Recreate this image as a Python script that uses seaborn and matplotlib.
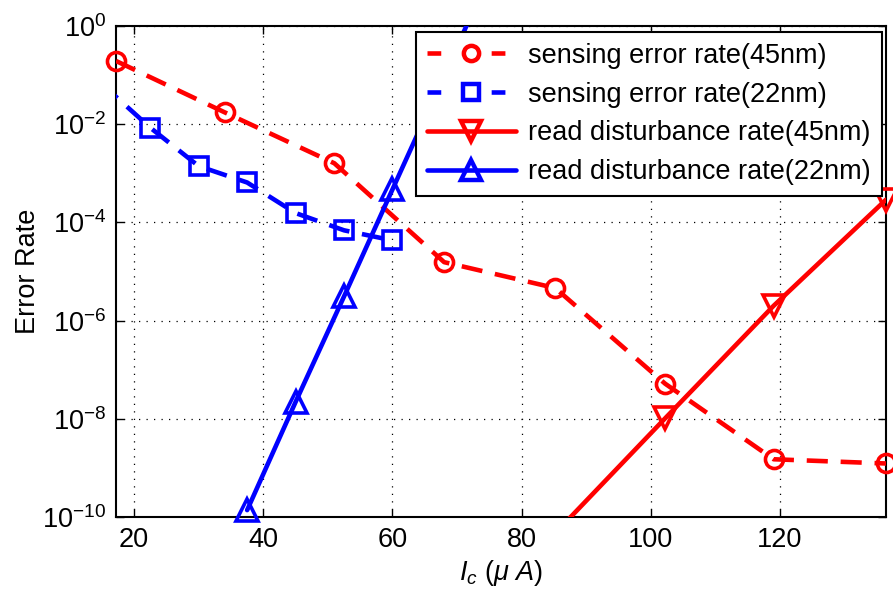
import numpy as np
import pandas as pd
import matplotlib
matplotlib.use("Agg")
import matplotlib.pyplot as plt
import seaborn as sns
from matplotlib.lines import Line2D
from matplotlib.ticker import FixedLocator, NullLocator, LogFormatterSciNotation

# Critical current (uA) and error rates
sense45_x = [17.2, 34.0, 51.0, 68.0, 85.2, 102.2, 119.0, 136.4]
sense45_y = [1.94e-1, 1.75e-2, 1.6e-3, 1.55e-5, 4.6e-6, 5.2e-8, 1.5e-9, 1.23e-9]

sense22_x = [15.0, 22.5, 30.0, 37.5, 45.0, 52.5, 60.0]
sense22_y = [6.6e-2, 8.5e-3, 1.4e-3, 6.5e-4, 1.55e-4, 6.9e-5, 4.3e-5]

dist45_x = [85.2, 102.2, 119.0, 136.4]
dist45_y = [4.7e-11, 1.02e-8, 2.0e-6, 2.9e-4]

dist22_x = [37.5, 45.0, 52.5, 60.0, 67.5, 75.0]
dist22_y = [1.38e-10, 2.2e-8, 3.1e-6, 4.7e-4, 7.0e-2, 11.0]

labels = ["sensing error rate(45nm)", "sensing error rate(22nm)",
          "read disturbance rate(45nm)", "read disturbance rate(22nm)"]
y_ticks = [1e-10, 1e-8, 1e-6, 1e-4, 1e-2, 1e0]
x_ticks = [20, 40, 60, 80, 100, 120]
XLIM = (17.2, 136.4)
YLIM = (1e-10, 1.0)

sns.set_style("ticks")
plt.rcParams.update({
    "font.family": ["Liberation Sans", "DejaVu Sans"],
    "mathtext.fontset": "custom",
    "mathtext.rm": "Liberation Sans",
    "mathtext.it": "Liberation Sans:italic",
    "mathtext.bf": "Liberation Sans:bold",
    "xtick.direction": "in",
    "ytick.direction": "in",
    "xtick.top": True,
    "ytick.right": True,
    "axes.edgecolor": "black",
    "axes.linewidth": 1.5,
    "text.color": "black",
    "axes.labelcolor": "black",
    "xtick.color": "black",
    "ytick.color": "black",
})

fig = plt.figure(figsize=(8.93, 5.97), dpi=100)
ax = fig.add_axes([116 / 893, 1 - 517 / 597, 770 / 893, 491 / 597])
ax.set_yscale("log")

LW = 3.3
MEW = 2.6
series = [
    (sense45_x, sense45_y, "#ff0000", (0, (4.6, 2.8)), (0, (3.0, 11.0)), "o", 13),
    (sense22_x, sense22_y, "#0000ff", (0, (4.6, 2.8)), (0, (3.0, 11.0)), "s", 13),
    (dist45_x, dist45_y, "#ff0000", "-", "-", "v", 16),
    (dist22_x, dist22_y, "#0000ff", "-", "-", "^", 16),
]

handles = []
for xs, ys, col, ls, leg_ls, mk, ms in series:
    df = pd.DataFrame({"x": xs, "y": ys})
    # line (clipped to the axes)
    sns.lineplot(data=df, x="x", y="y", ax=ax, color=col, linewidth=LW,
                 linestyle=ls, sort=False, estimator=None, errorbar=None,
                 zorder=3)
    # markers for points inside the limits, drawn unclipped
    inside = df[(df.x >= XLIM[0] - 1e-9) & (df.x <= XLIM[1] + 1e-9)
                & (df.y >= YLIM[0]) & (df.y <= YLIM[1])]
    sns.lineplot(data=inside, x="x", y="y", ax=ax, color=col, linestyle="none",
                 marker=mk, markersize=ms, markerfacecolor="none",
                 markeredgecolor=col, markeredgewidth=MEW, sort=False,
                 estimator=None, errorbar=None, clip_on=False, zorder=4)
    handles.append(Line2D([], [], color=col, linewidth=LW, linestyle=leg_ls,
                          marker=mk, markersize=ms - 2, markerfacecolor="none",
                          markeredgecolor=col, markeredgewidth=MEW + 0.6))

ax.set_xlim(*XLIM)
ax.set_ylim(*YLIM)
ax.xaxis.set_major_locator(FixedLocator(x_ticks))
ax.yaxis.set_major_locator(FixedLocator(y_ticks))
ax.yaxis.set_minor_locator(NullLocator())
ax.yaxis.set_major_formatter(LogFormatterSciNotation())
ax.tick_params(which="major", length=6, width=1, labelsize=19.5,
               colors="black", pad=7)
ax.grid(True, which="major", color="black", linestyle=(0, (1, 5)),
        linewidth=0.9)
ax.set_axisbelow(True)

ax.set_xlabel(r"$I_c\ (\mu\ A)$", fontsize=19.5, labelpad=4, color="black")
ax.set_ylabel("Error Rate", fontsize=19.5, labelpad=1, color="black")

leg = ax.legend(handles, labels, loc="upper right",
                bbox_to_anchor=(0.9944, 0.9878), borderaxespad=0,
                frameon=True, fancybox=False, edgecolor="black",
                framealpha=1, fontsize=19.5, handlelength=3.3,
                handletextpad=0.45, labelspacing=0.47, borderpad=0.4,
                labelcolor="black")
leg.get_frame().set_linewidth(1.5)
leg.set_zorder(10)

fig.savefig("out.png", dpi=100)
